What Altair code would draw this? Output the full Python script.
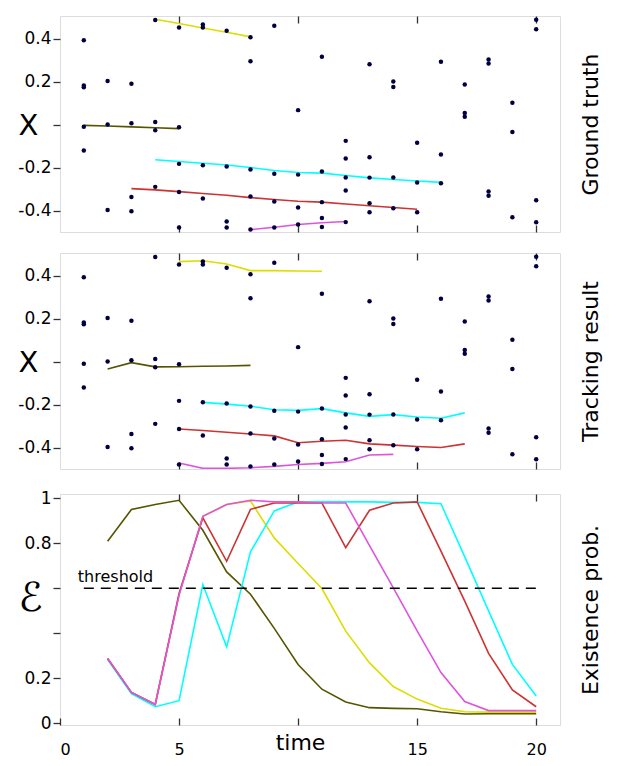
import altair as alt
import pandas as pd

# ---------------- data ----------------
meas_times = list(range(1, 21))
meas_values = [
    [0.392, 0.182, 0.174, -0.010, -0.121],
    [0.203, 0.000, -0.398],
    [0.190, 0.006, -0.337, -0.403],
    [0.486, 0.012, -0.027, -0.290],
    [0.451, -0.013, -0.183, -0.314, -0.479],
    [0.465, 0.451, -0.189, -0.344],
    [0.436, -0.195, -0.451, -0.479],
    [0.406, 0.294, -0.209, -0.335, -0.488],
    [0.460, -0.229, -0.358, -0.479],
    [0.067, -0.233, -0.386, -0.465],
    [0.315, -0.219, -0.361, -0.435, -0.477],
    [-0.076, -0.158, -0.246, -0.307, -0.454],
    [0.281, -0.152, -0.247, -0.366, -0.408],
    [0.200, 0.175, -0.246, -0.389],
    [-0.085, -0.270, -0.408],
    [0.292, -0.139, -0.273],
    [0.186, 0.054, 0.036],
    [0.303, 0.284, -0.312, -0.331],
    [0.101, -0.035, -0.431],
    [0.488, 0.443, -0.352, -0.455],
]

track_names = ["olive", "yellow", "cyan", "red", "magenta"]
track_colors = ["#555500", "#dddd00", "#00ffff", "#cc3333", "#dd55dd"]

# ground truth tracks: (start time, values)
gt_olive = (1, [-0.004, -0.007, -0.011, -0.015, -0.019])
gt_yellow = (4, [0.490, 0.470, 0.449, 0.429, 0.408])
gt_cyan = (4, [-0.164, -0.172, -0.180, -0.188, -0.200, -0.214, -0.223, -0.226,
               -0.237, -0.248, -0.256, -0.263, -0.269])
gt_red = (3, [-0.298, -0.304, -0.312, -0.321, -0.329, -0.340, -0.349, -0.357,
              -0.361, -0.370, -0.378, -0.386, -0.394])
gt_magenta = (8, [-0.489, -0.478, -0.465, -0.457, -0.451])

# tracking result tracks
tr_olive = (2, [-0.035, -0.005, -0.025, -0.024, -0.022, -0.021, -0.018])
tr_yellow = (5, [0.465, 0.469, 0.454, 0.423, 0.423, 0.421, 0.420])
tr_cyan = (6, [-0.190, -0.198, -0.208, -0.224, -0.227, -0.219, -0.239, -0.255,
               -0.247, -0.258, -0.264, -0.239])
tr_red = (5, [-0.314, -0.321, -0.329, -0.337, -0.346, -0.378, -0.371, -0.366,
              -0.383, -0.389, -0.395, -0.400, -0.383])
tr_magenta = (5, [-0.472, -0.497, -0.497, -0.494, -0.488, -0.479, -0.474, -0.466,
                  -0.435, -0.432])

# existence probabilities, times 2..20
ep_times = list(range(2, 21))
ep_olive = [0.809, 0.950, 0.972, 0.991, 0.858, 0.673, 0.574, 0.422, 0.262, 0.152,
            0.095, 0.070, 0.067, 0.065, 0.052, 0.042, 0.043, 0.043, 0.043]
ep_yellow = [0.288, 0.138, 0.084, 0.570, 0.920, 0.972, 0.988, 0.824, 0.710, 0.599,
             0.410, 0.269, 0.164, 0.108, 0.067, 0.052, 0.050, 0.050, 0.050]
ep_cyan = [0.284, 0.132, 0.074, 0.101, 0.617, 0.340, 0.762, 0.944, 0.984, 0.984,
           0.984, 0.984, 0.982, 0.982, 0.976, 0.740, 0.500, 0.262, 0.122]
ep_red = [0.288, 0.138, 0.084, 0.577, 0.913, 0.720, 0.951, 0.979, 0.979, 0.979,
          0.781, 0.947, 0.979, 0.984, 0.765, 0.543, 0.311, 0.149, 0.074]
ep_magenta = [0.288, 0.138, 0.084, 0.570, 0.920, 0.972, 0.991, 0.984, 0.984, 0.979,
              0.979, 0.790, 0.602, 0.411, 0.226, 0.097, 0.057, 0.057, 0.057]

threshold_value = 0.6
threshold_span = [1, 20]
threshold_label = "threshold"

x_ticks = [0, 5, 10, 15, 20]
pos_ticks = [-0.4, -0.2, 0, 0.2, 0.4]
ep_ticks = [0, 0.2, 0.4, 0.6, 0.8, 1]

# ---------------- tables ----------------
pts = pd.DataFrame(
    [{"t": t, "v": v} for t, vals in zip(meas_times, meas_values) for v in vals]
)


def track_table(tracks):
    rows = []
    for name, (start, vals) in zip(track_names, tracks):
        for i, v in enumerate(vals):
            rows.append({"track": name, "t": start + i, "v": v})
    return pd.DataFrame(rows)


gt_df = track_table([gt_olive, gt_yellow, gt_cyan, gt_red, gt_magenta])
tr_df = track_table([tr_olive, tr_yellow, tr_cyan, tr_red, tr_magenta])
ep_df = pd.DataFrame(
    [{"track": n, "t": t, "v": v}
     for n, vals in zip(track_names, [ep_olive, ep_yellow, ep_cyan, ep_red, ep_magenta])
     for t, v in zip(ep_times, vals)]
)
thr_df = pd.DataFrame([{"t0": threshold_span[0], "t1": threshold_span[1],
                        "v": threshold_value, "label": threshold_label}])

# ---------------- chart ----------------
FONT = "DejaVu Sans"
W = 500
NAVY = "#000040"
xscale = alt.Scale(domain=[0, 21], nice=False, zero=False)
pos_scale = alt.Scale(domain=[-0.5, 0.505], nice=False, zero=False)
ep_scale = alt.Scale(domain=[-0.007, 1.019], nice=False, zero=False)
color_scale = alt.Scale(domain=track_names, range=track_colors)

tick_style = dict(tickColor="#333333", tickWidth=1.3, grid=False)


def x_bottom(labels=False):
    if labels:
        return alt.Axis(orient="bottom", offset=-7, tickSize=7, domain=False,
                        values=x_ticks, labels=True, labelFontSize=16,
                        labelPadding=16, labelFont=FONT, labelColor="black",
                        labelExpr="datum.value == 10 ? '' : datum.label",
                        title="time", titleFont=FONT, titleFontSize=22,
                        titleFontWeight="normal", titleX=240, titleY=24,
                        titleAlign="center", titleBaseline="middle",
                        titleColor="black", **tick_style)
    return alt.Axis(orient="bottom", offset=-7, tickSize=7, domain=False,
                    values=x_ticks[1:], labels=False, title=None, **tick_style)


x_top = alt.Axis(orient="top", offset=-7, tickSize=7, domain=False,
                 values=x_ticks[1:], labels=False, title=None, **tick_style)


def y_left(title, values, expr, size, tx, ty, font=FONT):
    return alt.Axis(orient="left", values=values, tickSize=7, labelPadding=2,
                    domain=False, labelFontSize=17, labelFont=FONT,
                    labelColor="black", labelExpr=expr,
                    title=title, titleAngle=0, titleFontSize=size, titleFont=font,
                    titleFontWeight="normal", titleColor="black",
                    titleX=tx, titleY=ty, titleAlign="center",
                    titleBaseline="middle", **tick_style)


def y_right(title, h):
    return alt.Axis(orient="right", labels=False, ticks=False, domain=False,
                    grid=False, title=title, titleAngle=270, titleFontSize=22,
                    titleFont=FONT, titleFontWeight="normal", titleColor="black",
                    titleX=30, titleY=h / 2, titleAlign="center",
                    titleBaseline="middle")


pos_expr = "datum.value == 0 ? '' : replace(format(datum.value, '.1f'), '\u2212', '-')"
ep_expr = "(datum.value == 0.4 || datum.value == 0.6) ? '' : format(datum.value, '~g')"


def position_panel(lines_df, title, h):
    lines = alt.Chart(lines_df).mark_line(strokeWidth=1.6, clip=True).encode(
        x=alt.X("t:Q", scale=xscale, axis=x_top),
        y=alt.Y("v:Q", scale=pos_scale, axis=y_right(title, h)),
        color=alt.Color("track:N", scale=color_scale, legend=None),
        order="t:Q",
    )
    points = alt.Chart(pts).mark_circle(size=20, color=NAVY, opacity=1).encode(
        x=alt.X("t:Q", scale=xscale, axis=x_bottom(False)),
        y=alt.Y("v:Q", scale=pos_scale,
                axis=y_left("X", pos_ticks, pos_expr, 29, -32, h / 2 + 1)),
    )
    return alt.layer(lines, points).properties(width=W, height=h)


H1 = 216
H3 = 231
p1 = position_panel(gt_df, "Ground truth", H1)
p2 = position_panel(tr_df, "Tracking result", H1)

rule = alt.Chart(thr_df).mark_rule(strokeDash=[10, 7], color="black",
                                   strokeWidth=1.5).encode(
    x=alt.X("t0:Q", scale=xscale, axis=x_top),
    x2="t1:Q",
    y=alt.Y("v:Q", scale=ep_scale, axis=y_right("Existence prob.", H3)),
)
label = alt.Chart(thr_df).mark_text(align="left", baseline="bottom", dx=-6, dy=-3,
                                    fontSize=16, font=FONT, color="black").encode(
    x=alt.X("t0:Q", scale=xscale, axis=None),
    y=alt.Y("v:Q", scale=ep_scale, axis=None),
    text="label:N",
)
ep_lines = alt.Chart(ep_df).mark_line(strokeWidth=1.6, clip=True).encode(
    x=alt.X("t:Q", scale=xscale, axis=x_bottom(True)),
    y=alt.Y("v:Q", scale=ep_scale,
            axis=y_left("\u2130", ep_ticks, ep_expr, 40, -30, H3 / 2 - 11)),
    color=alt.Color("track:N", scale=color_scale, legend=None),
    order="t:Q",
)
p3 = alt.layer(ep_lines, rule, label).properties(width=W, height=H3)

chart = alt.vconcat(p1, p2, p3, spacing=17).properties(
    padding={"left": 9, "top": 6, "right": 5, "bottom": 5}
).configure_view(stroke="#222222", strokeWidth=1.5).configure(
    font=FONT, background="white"
)

chart.save("out.html", embed_options={"renderer": "svg", "actions": False})
